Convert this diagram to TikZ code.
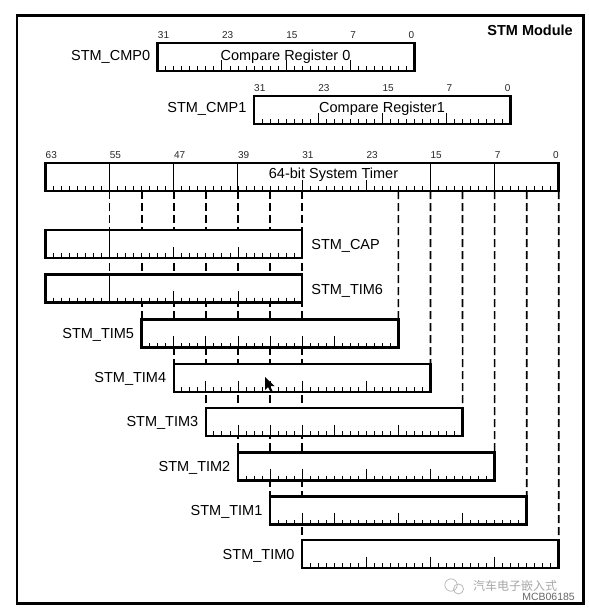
\documentclass[tikz,border=0pt]{standalone}
\usepackage{fontspec}
\setmainfont{Liberation Sans}
\newfontfamily\cjkfont{Noto Sans CJK SC}
\usetikzlibrary{calc}
\pgfdeclarelayer{background}
\pgfsetlayers{background,main}
\newcommand\lblfont{\fontsize{14.5bp}{17bp}\selectfont}
\newcommand\bitfont{\fontsize{10bp}{12bp}\selectfont}
\newcommand\PX[1]{45.5+(#1)*8.02}
% name, start p, nbits, top y
\newcommand\mkreg[4]{%
  \node[reg, minimum width={#3*8.02bp}, minimum height=28bp] (#1) at ({\PX{#2}},#4) {};}
% start p, last inner index, bottom y
\newcommand\smallticks[3]{%
  \foreach \i in {1,...,#2} \draw[tk] ({\PX{#1+\i}},#3) -- ++(0,-4.6);}
% list of p, bottom y
\newcommand\tallticks[2]{%
  \foreach \i in {#1} \draw[tk] ({\PX{\i}},#2) -- ++(0,-11.3);}
% name, start p, top y : labels 31 23 15 7 0
\newcommand\bitlabels[3]{%
  \foreach \r/\l in {0/31,8/23,16/15,24/7}
    \node[bit, anchor=base west] (#1-b\l) at ({\PX{#2+\r}},#3-4) {\l};
  \node[bit, anchor=base east] (#1-b0) at ({\PX{#2+32}},#3-4) {0};}
\begin{document}
\begin{tikzpicture}[x=1bp,y=-1bp,
  reg/.style={draw, fill=white, line width=2.6bp, inner sep=0pt, outer sep=0pt, anchor=north west},
  tk/.style={line width=0.9bp},
  inl/.style={line width=1bp},
  dl/.style={line width=1.6bp, dash pattern=on 8bp off 4bp},
  bit/.style={font=\bitfont, inner sep=0pt, text=black!85},
  lbl/.style={font=\lblfont, inner sep=0pt},
  ]
\useasboundingbox (0,0) rectangle (589,613);
\node[draw, line width=2.8bp, inner sep=0pt, outer sep=0pt, anchor=north west,
  minimum width=566.2bp, minimum height=588bp] (frame) at (17,15.3) {};
\node[font=\lblfont\bfseries, inner sep=0pt, anchor=base east] (title) at (573,36) {STM Module};

\foreach \p in {0,...,64} \coordinate (p\p) at ({\PX{\p}},0);

% registers
\mkreg{cmp0}{14}{32}{43}
\mkreg{cmp1}{26}{32}{96}
\mkreg{sys}{0}{64}{163}
\mkreg{cap}{0}{32}{229.8}
\mkreg{tim6}{0}{32}{274.5}
\mkreg{tim5}{12}{32}{319.5}
\mkreg{tim4}{16}{32}{363.8}
\mkreg{tim3}{20}{32}{407.8}
\mkreg{tim2}{24}{32}{452.2}
\mkreg{tim1}{28}{32}{496.2}
\mkreg{tim0}{32}{32}{540}

% dashed connectors
\begin{pgfonlayer}{background}
\draw[dl] (sys.south -| p8) -- (tim6.south -| p8);
\draw[dl] (sys.south -| p12) -- (tim5.north west);
\draw[dl] (sys.south -| p16) -- (tim4.north west);
\draw[dl] (sys.south -| p20) -- (tim3.north west);
\draw[dl] (sys.south -| p24) -- (tim2.north west);
\draw[dl] (sys.south -| p28) -- (tim1.north west);
\draw[dl] (sys.south -| p32) -- (tim0.north west);
\draw[dl] (sys.south -| p44) -- (tim5.north east);
\draw[dl] (sys.south -| p48) -- (tim4.north east);
\draw[dl] (sys.south -| p52) -- (tim3.north east);
\draw[dl] (sys.south -| p56) -- (tim2.north east);
\draw[dl] (sys.south -| p60) -- (tim1.north east);
\draw[dl] (sys.south east) -- (tim0.north east);
\end{pgfonlayer}

% inner full lines
\foreach \p in {8,16,24,48,56} \draw[inl] (sys.north -| p\p) -- (sys.south -| p\p);
\draw[inl] (cap.north -| p8) -- (cap.south -| p8);
\draw[inl] (tim6.north -| p8) -- (tim6.south -| p8);

% ticks
\smallticks{14}{31}{71}
\tallticks{22,30,38}{71}
\smallticks{26}{31}{124}
\tallticks{34,42,50}{124}
\smallticks{0}{63}{191}
\tallticks{32,40}{191}
\smallticks{0}{31}{257.8}
\tallticks{16,24}{257.8}
\smallticks{0}{31}{302.5}
\tallticks{16,24}{302.5}
\smallticks{12}{31}{347.5}
\tallticks{16,20,24,28,32,36}{347.5}
\smallticks{16}{31}{391.8}
\tallticks{20,24,28,32,40}{391.8}
\smallticks{20}{31}{435.8}
\tallticks{24,28,32,36,44}{435.8}
\smallticks{24}{31}{480.2}
\tallticks{28,32,40,48}{480.2}
\smallticks{28}{31}{524.2}
\tallticks{32,36,44,52}{524.2}
\smallticks{32}{31}{568}
\tallticks{40,48,56}{568}

% bit numbers
\bitlabels{cmp0}{14}{43}
\bitlabels{cmp1}{26}{96}
\foreach \r/\l in {0/63,8/55,16/47,24/39,32/31,40/23,48/15,56/7}
  \node[bit, anchor=base west] (sys-b\l) at ({\PX{\r}},159) {\l};
\node[bit, anchor=base east] (sys-b0) at ({\PX{64}},159) {0};

% texts inside registers
\node[lbl, anchor=base] (t-cmp0) at (285.5,61) {Compare Register 0};
\node[lbl, anchor=base] (t-cmp1) at (382,112.5) {Compare Register1};
\node[lbl, anchor=base] (t-sys) at (333.5,179) {64-bit System Timer};

% register names
\node[lbl, anchor=base east] (n-cmp0) at ($(cmp0.north west)+(-7.5,18)$) {STM\_CMP0};
\node[lbl, anchor=base east] (n-cmp1) at ($(cmp1.north west)+(-7.5,16.5)$) {STM\_CMP1};
\node[lbl, anchor=base west] (n-cap) at ($(cap.north east)+(9,19.5)$) {STM\_CAP};
\node[lbl, anchor=base west] (n-tim6) at ($(tim6.north east)+(9,19.5)$) {STM\_TIM6};
\foreach \t/\n in {tim5/TIM5,tim4/TIM4,tim3/TIM3,tim2/TIM2,tim1/TIM1,tim0/TIM0}
  \node[lbl, anchor=base east] (n-\t) at ($(\t.north west)+(-7.5,19)$) {STM\_\n};

% mouse cursor
\fill (265,377) -- (265,390) -- (268,387) -- (270.5,392) -- (272.5,391) -- (270,386) -- (274.5,386) -- cycle;

% watermark
\draw[black!30, line width=0.7bp] (451,585) circle (6.2);
\draw[black!30, line width=0.7bp] (458.5,589) circle (5);
\node[inner sep=0pt, anchor=base west, text=black!35, font=\cjkfont\fontsize{12bp}{14bp}\selectfont] (wm) at (473,590) {汽车电子嵌入式};
\node[inner sep=0pt, anchor=base east, text=black!60, font=\fontsize{10.5bp}{12bp}\selectfont] (mcb) at (575,600) {MCB06185};
\end{tikzpicture}
\end{document}
